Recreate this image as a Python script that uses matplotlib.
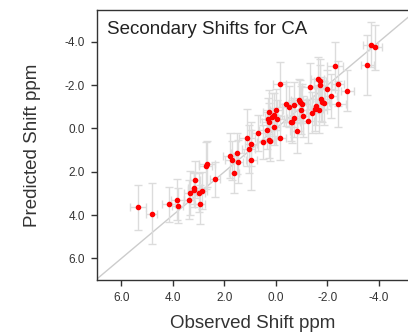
import matplotlib
matplotlib.use("Agg")
import matplotlib.pyplot as plt

plt.rcParams['font.family'] = ['Liberation Sans', 'DejaVu Sans']

# Observed vs predicted secondary shifts (ppm) with uncertainties
observed = [5.35, 4.83, 4.17, 3.84, 3.82, 3.38, 3.33, 3.20, 3.17, 3.15, 3.00, 2.96, 2.89,
            2.73, 2.68, 2.36, 1.79, 1.72, 1.63, 1.50, 1.49, 1.13, 1.06, 0.97, 0.95, 0.69,
            0.49, 0.36, 0.27, 0.23, 0.32, 0.26, 0.26, 0.17, 0.08, 0.06, -0.01, -0.06, -0.14,
            -0.16, -0.41, -0.49, -0.57, -0.62, -0.69, -0.72, -0.80, -0.89, -0.93, -0.97,
            -1.01, -1.05, -1.24, -1.32, -1.42, -1.51, -1.57, -1.62, -1.67, -1.71, -1.72,
            -1.75, -1.80, -1.86, -1.99, -2.14, -2.30, -2.41, -2.42, -2.78, -3.55, -3.68, -3.86]
predicted = [3.64, 3.93, 3.50, 3.30, 3.56, 3.29, 2.98, 2.84, 2.74, 2.36, 2.97, 3.50, 2.87,
             1.72, 1.64, 2.35, 1.26, 1.46, 2.07, 1.15, 1.53, 0.42, 0.95, 0.72, 1.46, 0.21,
             0.62, 0.07, 0.53, 0.59, -0.44, -0.76, -0.28, -0.52, -0.08, -0.64, -0.87, -0.42,
             -2.04, 0.44, -1.13, -1.01, -0.30, -0.32, -0.50, -1.10, 0.13, -1.32, -1.24, -0.85,
             -1.13, -0.56, -0.35, -1.93, -0.73, -0.90, -1.05, -2.29, -0.84, -2.18, -2.01,
             -1.36, -1.24, -1.18, -1.81, -1.50, -2.87, -2.07, -1.12, -1.75, -2.93, -3.87, -3.75]
predicted_err = [1.04, 1.40, 0.80, 0.95, 0.80, 0.90, 1.00, 0.80, 0.75, 0.85, 0.90, 0.90, 0.85,
                 1.10, 1.05, 0.80, 1.05, 0.90, 0.90, 0.95, 1.00, 1.30, 1.10, 1.00, 1.40, 0.85,
                 0.80, 0.90, 0.85, 0.90, 0.95, 1.00, 0.90, 1.10, 0.85, 1.00, 0.95, 0.90, 1.05,
                 1.00, 1.00, 0.95, 0.90, 1.00, 0.90, 1.05, 1.00, 0.95, 1.00, 1.10, 0.90, 0.95,
                 1.00, 1.10, 0.95, 1.00, 0.90, 1.00, 1.05, 1.05, 0.90, 1.00, 0.95, 1.00, 0.90,
                 1.00, 1.10, 1.05, 1.05, 0.95, 1.38, 1.05, 1.05]
observed_err = [0.30, 0.20, 0.25, 0.25, 0.20, 0.20, 0.25, 0.20, 0.25, 0.20, 0.25, 0.20, 0.20,
                0.25, 0.30, 0.20, 0.25, 0.25, 0.20, 0.25, 0.20, 0.30, 0.25, 0.25, 0.20, 0.25,
                0.25, 0.30, 0.25, 0.25, 0.30, 0.25, 0.30, 0.25, 0.25, 0.30, 0.25, 0.25, 0.25,
                0.25, 0.30, 0.25, 0.25, 0.30, 0.25, 0.25, 0.25, 0.30, 0.25, 0.25, 0.30, 0.25,
                0.25, 0.30, 0.25, 0.30, 0.25, 0.25, 0.30, 0.25, 0.25, 0.30, 0.25, 0.25, 0.30,
                0.25, 0.30, 0.25, 0.30, 0.25, 0.25, 0.30, 0.25]

x_ticks = [6.0, 4.0, 2.0, 0.0, -2.0, -4.0]
y_ticks = [-4.0, -2.0, 0.0, 2.0, 4.0, 6.0]

fig = plt.figure(figsize=(4.08, 3.32), dpi=100)
ax = fig.add_axes([97 / 408, 52 / 332, 311 / 408, 270 / 332])

ax.axline((0, 0), slope=1, color='#cccccc', lw=1.0, zorder=1)
ax.errorbar(observed, predicted, xerr=observed_err, yerr=predicted_err, fmt='none',
            ecolor='#dcdcdc', elinewidth=1.0, capsize=3.2, capthick=1.0, zorder=2)
ax.plot(observed, predicted, 'o', color='#ff0000', ms=3.0, mec='#ff0000', zorder=3)

ax.set_xlim(6.95, -5.13)
ax.set_ylim(7.0, -5.47)
ax.set_xticks(x_ticks)
ax.set_xticklabels([f"{v:.1f}" for v in x_ticks])
ax.set_yticks(y_ticks)
ax.set_yticklabels([f"{v:.1f}" for v in y_ticks])

for side in ['left', 'bottom', 'top']:
    ax.spines[side].set_color('#333333')
    ax.spines[side].set_linewidth(1.0)
ax.spines['right'].set_visible(False)
ax.tick_params(axis='both', direction='out', length=4.5, width=1.0, color='#333333',
               labelsize=8.5, labelcolor='#333333', pad=4)

ax.set_xlabel('Observed Shift ppm', fontsize=13.5, color='#333333', labelpad=8)
ax.set_ylabel('Predicted Shift ppm', fontsize=13.5, color='#333333', labelpad=17)
ax.text(0.032, 0.958, 'Secondary Shifts for CA', transform=ax.transAxes, fontsize=13.5,
        color='#222222', va='top', ha='left')

fig.savefig('out.png', dpi=100)
